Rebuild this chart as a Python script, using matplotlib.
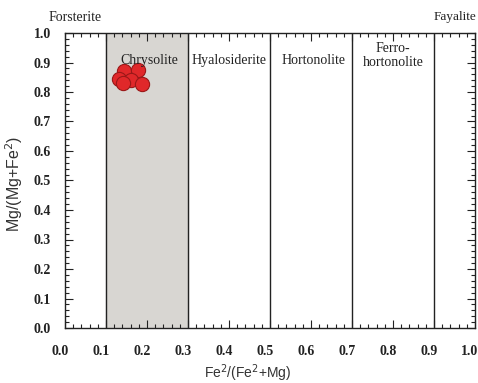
import numpy as np
import matplotlib
matplotlib.use("Agg")
import matplotlib.pyplot as plt
import matplotlib.transforms as mtransforms
from matplotlib.ticker import MultipleLocator

# olivine composition points
fe_frac = [0.144, 0.178, 0.132, 0.161, 0.188, 0.141]
mg_frac = [0.871, 0.875, 0.844, 0.841, 0.827, 0.831]

boundaries = [0.1, 0.3, 0.5, 0.7, 0.9]
fields = ["Chrysolite", "Hyalosiderite", "Hortonolite", "Ferro-\nhortonolite"]
field_x = [0.205, 0.4, 0.605, 0.80]

serif = "Liberation Serif"

fig = plt.figure(figsize=(4.78, 3.83), dpi=100)
ax = fig.add_axes([65/478, 1 - 328/383, 410/478, 295/383])

ax.axvspan(boundaries[0], boundaries[1], color="#d8d6d2", zorder=0)
for b in boundaries:
    ax.axvline(b, color="#222222", lw=1.0, zorder=1)

ax.scatter(fe_frac, mg_frac, s=105, color="#e0282a", edgecolor="#9a1818",
           linewidth=0.8, zorder=3)

for name, xx in zip(fields, field_x):
    yy = 0.924 if "\n" in name else 0.908
    ax.text(xx, yy, name, ha="center", va="center", fontsize=10,
            family=serif, color="#222222", linespacing=1.05, zorder=4)

ax.text(-0.041, 1.054, "Forsterite", transform=ax.transAxes, family=serif,
        fontsize=10, ha="left", va="center", color="#222222")
ax.text(0.9, 1.054, "Fayalite", transform=ax.transAxes, family=serif,
        fontsize=9.5, ha="left", va="center", color="#222222")

ax.set_xlim(0, 1)
ax.set_ylim(0, 1)
ax.xaxis.set_major_locator(MultipleLocator(0.1))
ax.xaxis.set_minor_locator(MultipleLocator(0.02))
ax.yaxis.set_major_locator(MultipleLocator(0.1))
ax.yaxis.set_minor_locator(MultipleLocator(0.02))
ax.tick_params(which="both", direction="in", top=True, right=True,
               color="#222222", width=0.8)
ax.tick_params(which="major", length=6)
ax.tick_params(which="minor", length=3)
ax.tick_params(axis="x", which="major", pad=12)
ax.tick_params(axis="y", which="major", pad=10)

for lab in ax.get_xticklabels() + ax.get_yticklabels():
    lab.set_fontfamily(serif)
    lab.set_fontweight("bold")
    lab.set_fontsize(10)
    lab.set_color("#222222")

shift = mtransforms.ScaledTranslation(-5/100, 0, fig.dpi_scale_trans)
for lab in ax.get_xticklabels():
    lab.set_transform(lab.get_transform() + shift)

for sp in ax.spines.values():
    sp.set_color("#222222")
    sp.set_linewidth(1.0)

ax.set_xlabel("Fe$^2$/(Fe$^2$+Mg)", family="Liberation Sans", fontsize=10,
              color="#333333")
ax.set_ylabel("Mg/(Mg+Fe$^2$)", family="Liberation Sans", fontsize=11.5,
              color="#333333")
ax.xaxis.set_label_coords(0.446, -0.118)
ax.yaxis.set_label_coords(-0.098, 0.49)

fig.savefig("out.png", dpi=100)
